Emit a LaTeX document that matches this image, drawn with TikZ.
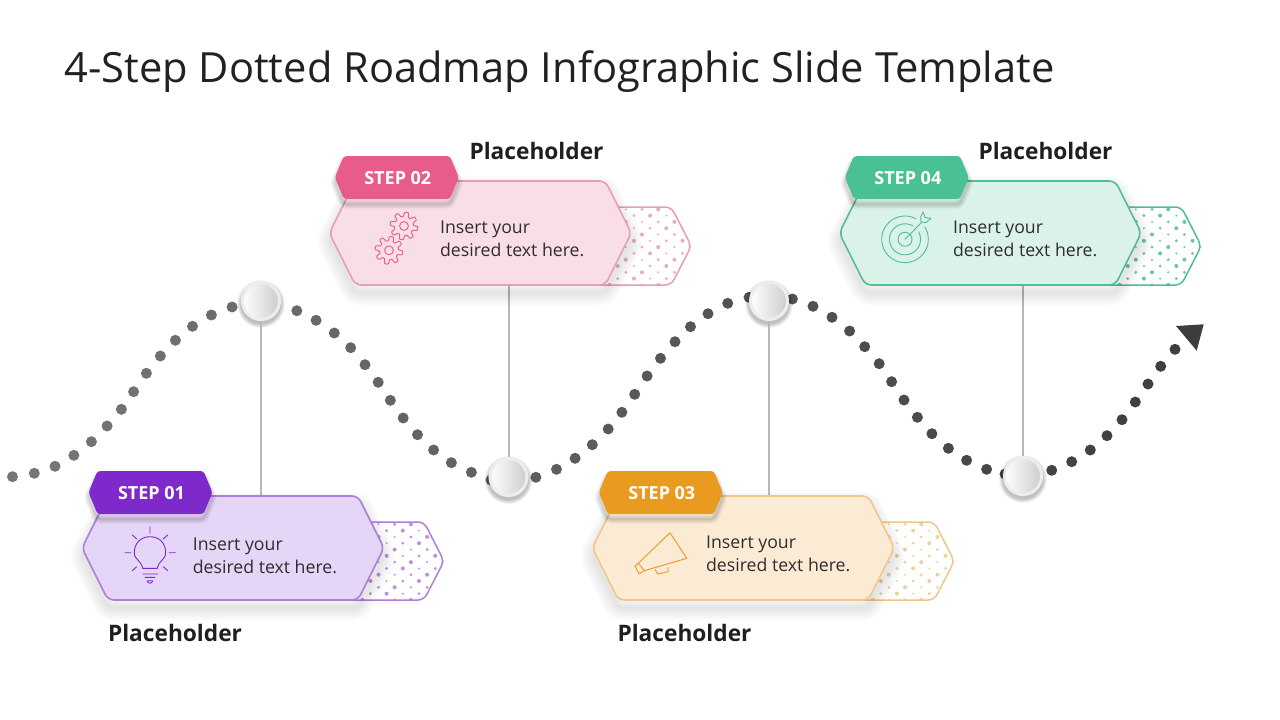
\documentclass[tikz,border=0pt]{standalone}
\usepackage{fontspec}
\setmainfont{Open Sans}
\definecolor{lineA}{HTML}{B07FDB}
\definecolor{fillA}{HTML}{E5D5F7}
\definecolor{tagA}{HTML}{7E29CC}
\definecolor{lineB}{HTML}{E79DB8}
\definecolor{fillB}{HTML}{FADEE7}
\definecolor{tagB}{HTML}{E85C8A}
\definecolor{lineC}{HTML}{EFC788}
\definecolor{fillC}{HTML}{FBEBD5}
\definecolor{tagC}{HTML}{E89B1E}
\definecolor{lineD}{HTML}{50BE94}
\definecolor{fillD}{HTML}{DBF2E8}
\definecolor{tagD}{HTML}{4AC193}
\newcommand{\mainhex}{(0,52) -- (26,0) -- (276,0) -- (302,52) -- (276,104) -- (26,104) -- cycle}
\newcommand{\backhex}{(153,104) -- (180,26) -- (342,26) -- (362,65) -- (342,104) -- cycle}
\newcommand{\taghex}{(0,21.5) -- (9,0) -- (115,0) -- (124,21.5) -- (115,43) -- (9,43) -- cycle}
\tikzset{
  stemline/.style={draw=black!28,line width=2pt},
  pinball/.style={circle,inner sep=0pt,minimum size=37pt,left color=white,right color=black!20,draw=black!7,line width=3pt},
  bodytext/.style={anchor=west,align=left,text=black!82,font=\fontsize{17.7}{23}\selectfont},
  headtext/.style={anchor=west,text=black!88,font=\fontsize{22.7}{27}\selectfont\bfseries},
  tagtext/.style={text=white,font=\fontsize{18}{20}\selectfont\bfseries},
  icon/.style={line width=0.9pt,line join=round,line cap=round}
}
\begin{document}
\begin{tikzpicture}[x=1pt,y=-1pt]
\useasboundingbox (0,0) rectangle (1280,720);
\node[anchor=west,text=black!87,font=\fontsize{41.6}{50}\selectfont] (title) at (61,72) {4-Step Dotted Roadmap Infographic Slide Template};
% dotted road:
\foreach \px/\py in {12.5/476.7,34.3/473.3,55/466.3,73.9/455.3,91.4/441.7,107.1/426,121.4/409.3,133.6/391.7,146.4/373.3,160.4/356,175.4/340.3,192.5/326.3,211.4/315,232.1/307,296.8/310.7,316.1/320.3,334.3/333,350.7/347.7,365/364.7,378.2/382.3,390.4/400.3,403.2/418,417.5/434.7,433.6/450,451.4/462.7,471.4/472.3,491/480,535.9/477.3,556.5/469.3,575.1/458.3,592.3/444.7,608.2/429,621.9/412.3,634.7/394.3,647.1/376,660.5/358.3,675/341.7,690.5/326.7,708/313.7,727.7/303.3,749/297.3,792.4/299,813/306.3,832/317.3,849.6/331,864.7/346.7,879.2/363.7,891.6/381.7,904/400,917.4/417.3,931.9/433.7,948.4/448.3,966.6/460.3,986.6/469.3,1005/474,1051.7/470.3,1071.7/461.7,1090.3/450,1107/435.7,1122/419.7,1135.3/402,1148/384,1160.7/366.3,1175/349.3}{
  \pgfmathsetmacro\shade{53+\px/52}
  \path[fill=black!\shade] (\px,\py) circle (5.5);
}
\path[fill=black!76] (1176,326) -- (1203.7,324.3) -- (1196.7,350.7) -- cycle;
% milestones and stems:
\foreach \n/\px/\py/\ey in {1/261/301/496,2/508.5/477/285,3/769/301/496,4/1023/476/285}{
  \foreach \w in {40,41,...,48}{
    \path[fill=black,fill opacity=.03] (\px,\py+3) circle (\w/2);
  }
  \node[pinball] (pin\n) at (\px,\py) {};
  \coordinate (stem\n) at (\px,\ey);
  \draw[stemline] (pin\n) -- (stem\n);
}
% cards:
\foreach \cid/\cx/\cy/\tx/\dx/\dy/\lc/\fc/\tc in {01/82/496/6.5/107.3/60/lineA/fillA/tagA,02/329.3/181/5.5/107.3/58/lineB/fillB/tagB,03/592.3/496/6.5/110.3/58/lineC/fillC/tagC,04/839.3/181/5.5/110.3/58/lineD/fillD/tagD}{
  \begin{scope}[shift={(\cx,\cy)}]
    \path[fill=white,rounded corners=6pt] \backhex;
    \begin{scope}
      \clip \backhex;
      \foreach \i in {0,...,24}{
        \foreach \j in {0,...,7}{
          \pgfmathsetmacro\dotr{1.1+0.45*mod(\i*2+\j*5,3)}
          \path[fill=\lc,fill opacity=.85] ({175+8.1*\i},{22+12.6*\j+6.3*mod(\i,2)}) circle (\dotr);
        }
      }
    \end{scope}
    \path[draw=\lc,line width=1.5pt,rounded corners=6pt] \backhex;
    \foreach \w in {2,5,...,26}{
      \path[draw=black,draw opacity=.01,line width=\w pt,line join=round,rounded corners=6pt,shift={(0,8)}] \mainhex;
    }
    \path[draw=\lc,fill=\fc,line width=1.6pt,rounded corners=6pt] \mainhex;
    \begin{scope}[shift={(\tx,-25)}]
      \foreach \w in {1,3,...,9}{
        \path[draw=black,draw opacity=.04,line width=\w pt,line join=round,rounded corners=3pt,shift={(0,5)}] \taghex;
      }
      \path[fill=\tc,rounded corners=3pt] \taghex;
      \node[tagtext] (tag\cid) at (63,22) {STEP \cid};
    \end{scope}
    \node[bodytext] (body\cid) at (\dx,\dy) {Insert your\\desired text here.};
  \end{scope}
}
\node[headtext] (head01) at (104.5,633) {Placeholder};
\node[headtext] (head02) at (466,151) {Placeholder};
\node[headtext] (head03) at (614,633) {Placeholder};
\node[headtext] (head04) at (975,151) {Placeholder};
% bulb:
\draw[icon,draw=tagA] (142.7,568.3) .. controls (141,560) and (134.3,560) .. (134.3,552.5) .. controls (134.3,543) and (141,536.7) .. (150,536.7) .. controls (159,536.7) and (165.7,543) .. (165.7,552.5) .. controls (165.7,560) and (159,560) .. (157.3,568.3) -- cycle;
\draw[icon,draw=tagA] (142.7,574) -- (157.7,574) (145,577.3) -- (155,577.3) (147.3,580.7) -- (152.7,580.7) .. controls (152.5,584) and (147.5,584) .. (147.3,580.7);
\draw[icon,draw=tagA] (150,526.7) -- (150,533.3) (125,552.7) -- (131,552.7) (169.3,552.7) -- (175.3,552.7) (132.3,535) -- (136.7,539) (167.7,535) -- (163.3,539) (132.3,570.7) -- (136.7,566.7) (167.7,570.7) -- (163.3,566.7);
% gears:
\draw[icon,draw=tagB,shift={(404,226)}] plot[domain=0:360,samples=145] (\x:{11.7+2.2*max(-1,min(1,2*sin(8*\x)))}) -- cycle;
\draw[icon,draw=tagB] (404,226) circle (4.4);
\draw[icon,draw=tagB,shift={(389,250.3)}] plot[domain=10:370,samples=145] (\x:{11.7+2.2*max(-1,min(1,2*sin(8*\x)))}) -- cycle;
\draw[icon,draw=tagB] (389,250.3) circle (4.4);
% megaphone:
\draw[icon,draw=tagC] (670,532.7) -- (686.7,558.3) -- (644.3,570.7) -- (638.3,563.3) -- cycle;
\draw[icon,draw=tagC] (638.3,563.3) -- (635,566) -- (639,574) -- (644.3,570.7);
\draw[icon,draw=tagC] (655,569.3) -- (657.7,574) -- (668.3,571.7) -- (667.7,567.3);
% target:
\draw[icon,draw=lineD,shift={(905,239.3)}] plot[domain=-32:298,samples=90] (\x:23.3);
\draw[icon,draw=lineD,shift={(905,239.3)}] plot[domain=-28:300,samples=70] (\x:15.5);
\draw[icon,draw=lineD] (905,239.3) circle (7);
\draw[icon,draw=lineD] (905,239.3) -- (921,223) (920.7,217) -- (923.3,212) -- (925,217.5) -- (931,218.3) -- (926,222.5) -- (921,222) -- cycle;
\end{tikzpicture}
\end{document}
